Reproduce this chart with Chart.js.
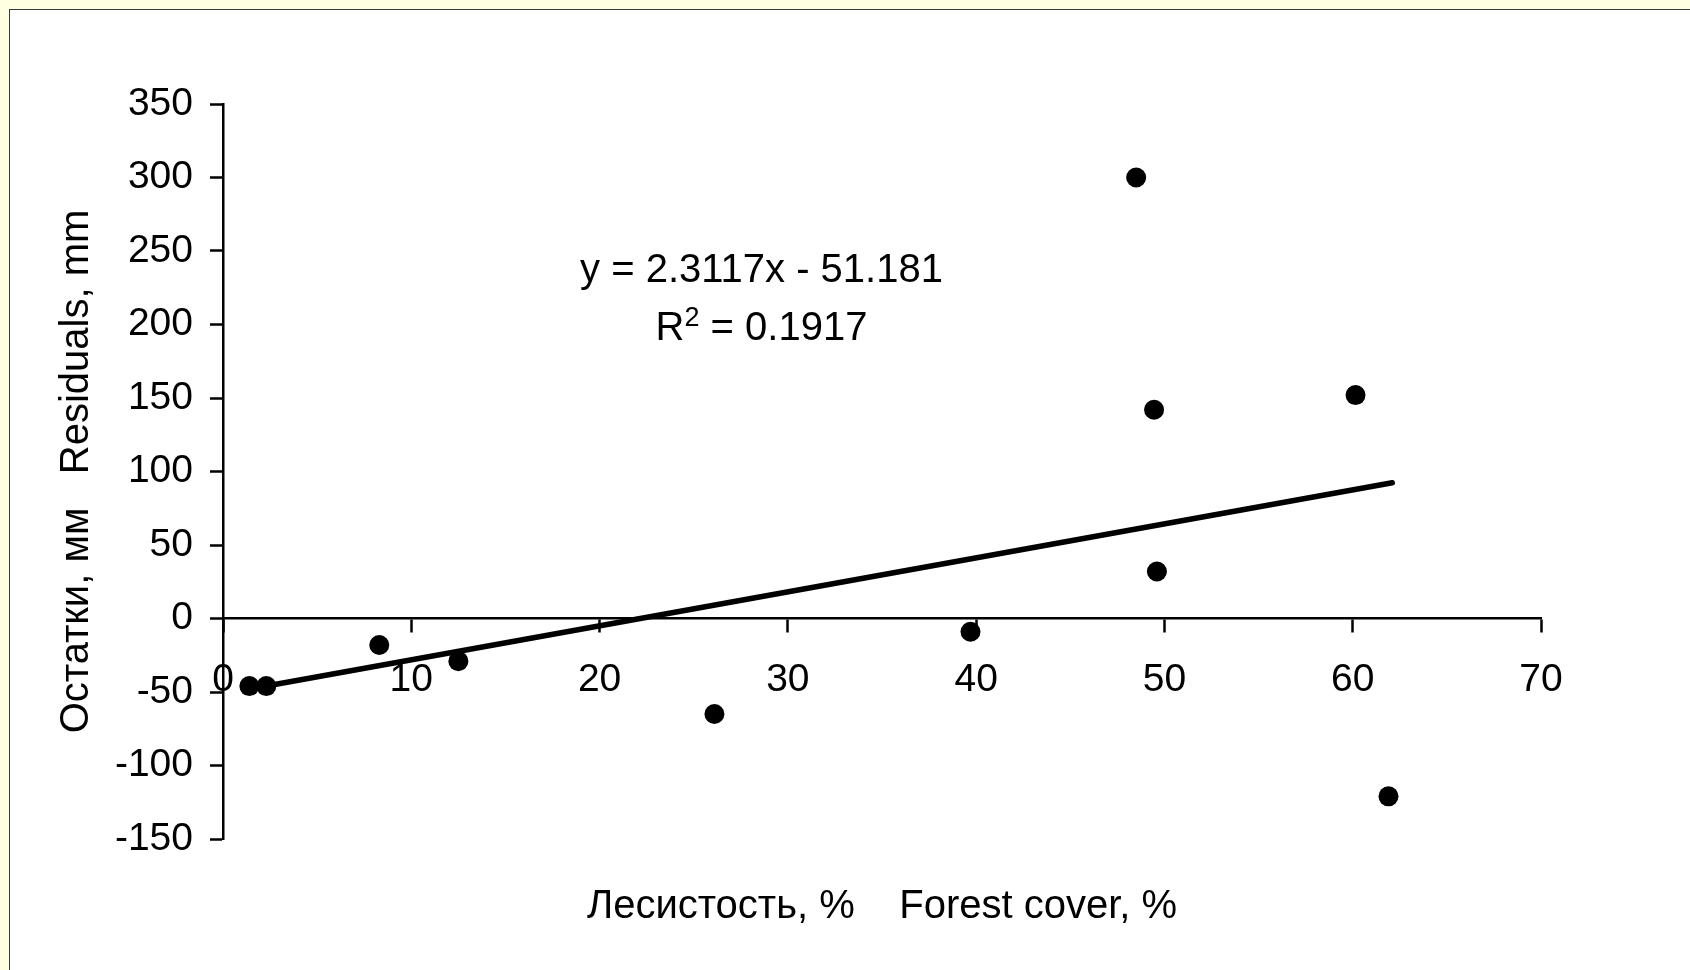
<!DOCTYPE html>
<html>
<head>
<meta charset="utf-8">
<script src="https://cdn.jsdelivr.net/npm/chart.js@4/dist/chart.umd.min.js"></script>
<style>
    html, body {
        margin: 0;
        padding: 0;
        width: 1690px;
        height: 970px;
        overflow: hidden;
        background: #ffffe1;
    }
    #panel {
        position: absolute;
        left: 9px;
        top: 9px;
        width: 1720px;
        height: 1000px;
        background: #ffffff;
        border: 1px solid #3a3a3a;
    }
    #residuals-chart {
        position: absolute;
        left: 0;
        top: 0;
    }
</style>
</head>
<body>
<div id="panel"></div>
<canvas id="residuals-chart" width="1690" height="970"></canvas>
<script>
const FONT = "'Liberation Sans', Arial, sans-serif";
const TICK_SIZE = 39;
const TEXT_SIZE = 40;

// forest cover, % and residuals, mm
const forestCover = [1.4, 2.3, 8.3, 12.5, 26.1, 39.7, 48.5, 49.45, 49.6, 60.15, 61.9];
const residuals = [-46, -46, -18, -29, -65, -9, 300, 142, 32, 152, -121];

// linear trend from the regression shown on the plot
const SLOPE = 2.3117;
const INTERCEPT = -51.181;
const R_SQUARED = "0.1917";
const trendX = [2.3, 62.1];

const X_TITLE = "Лесистость, %    Forest cover, %";
const Y_TITLE = "Остатки, мм   Residuals, mm";
const EQUATION = "y = " + SLOPE + "x - " + Math.abs(INTERCEPT);

const points = forestCover.map((x, i) => ({x: x, y: residuals[i]}));
const trend = trendX.map(x => ({x: x, y: SLOPE * x + INTERCEPT}));

const textPlugin = {
    id: "textPlugin",
    afterDraw(chart) {
        const {ctx, chartArea, scales} = chart;
        ctx.save();
        ctx.fillStyle = "#000";
        ctx.font = TEXT_SIZE + "px " + FONT;
        ctx.textBaseline = "alphabetic";

        // axis titles
        ctx.textAlign = "center";
        ctx.fillText(X_TITLE, (chartArea.left + chartArea.right) / 2, 918);
        ctx.save();
        ctx.translate(88, (chartArea.top + chartArea.bottom) / 2);
        ctx.rotate(-Math.PI / 2);
        ctx.fillText(Y_TITLE, 0, 0);
        ctx.restore();

        // regression equation
        const cx = scales.x.getPixelForValue(28.6);
        const cy = scales.y.getPixelForValue(229);
        ctx.fillText(EQUATION, cx, cy);

        ctx.textAlign = "left";
        const supFont = "27px " + FONT;
        const head = "R";
        const tail = " = " + R_SQUARED;
        const wHead = ctx.measureText(head).width;
        const wTail = ctx.measureText(tail).width;
        ctx.font = supFont;
        const wSup = ctx.measureText("2").width;
        let x = cx - (wHead + wSup + wTail) / 2;
        const y = cy + 58;
        ctx.font = TEXT_SIZE + "px " + FONT;
        ctx.fillText(head, x, y);
        x += wHead;
        ctx.font = supFont;
        ctx.fillText("2", x, y - 14);
        x += wSup;
        ctx.font = TEXT_SIZE + "px " + FONT;
        ctx.fillText(tail, x, y);
        ctx.restore();
    }
};

const ctx = document.querySelector("#residuals-chart").getContext("2d");
const configuration = {
    type: "scatter",
    data: {
        datasets: [
            {
                data: points,
                backgroundColor: "#000",
                borderColor: "#000",
                pointRadius: 10,
                pointBorderWidth: 0,
                showLine: false,
                order: 1
            },
            {
                data: trend,
                showLine: true,
                borderColor: "#000",
                borderWidth: 5.5,
                borderCapStyle: "round",
                pointRadius: 0,
                order: 2
            }
        ]
    },
    options: {
        responsive: false,
        animation: false,
        layout: {
            padding: {top: 104, right: 149, bottom: 131, left: 0}
        },
        plugins: {
            legend: {display: false},
            tooltip: {enabled: false}
        },
        scales: {
            x: {
                type: "linear",
                position: {y: 0},
                min: 0,
                max: 70,
                ticks: {
                    stepSize: 10,
                    color: "#000",
                    padding: 25,
                    font: {family: FONT, size: TICK_SIZE}
                },
                grid: {
                    drawOnChartArea: false,
                    tickLength: 13,
                    tickWidth: 2.5,
                    tickColor: "#000"
                },
                border: {color: "#000", width: 2.5}
            },
            y: {
                type: "linear",
                position: "left",
                min: -150,
                max: 350,
                ticks: {
                    stepSize: 50,
                    color: "#000",
                    padding: 17,
                    font: {family: FONT, size: TICK_SIZE}
                },
                grid: {
                    drawOnChartArea: false,
                    tickLength: 13,
                    tickWidth: 2.5,
                    tickColor: "#000"
                },
                border: {color: "#000", width: 2.5},
                afterFit: (scale) => { scale.width = 223; }
            }
        }
    },
    plugins: [textPlugin]
};
new Chart(ctx, configuration);
</script>
</body>
</html>
